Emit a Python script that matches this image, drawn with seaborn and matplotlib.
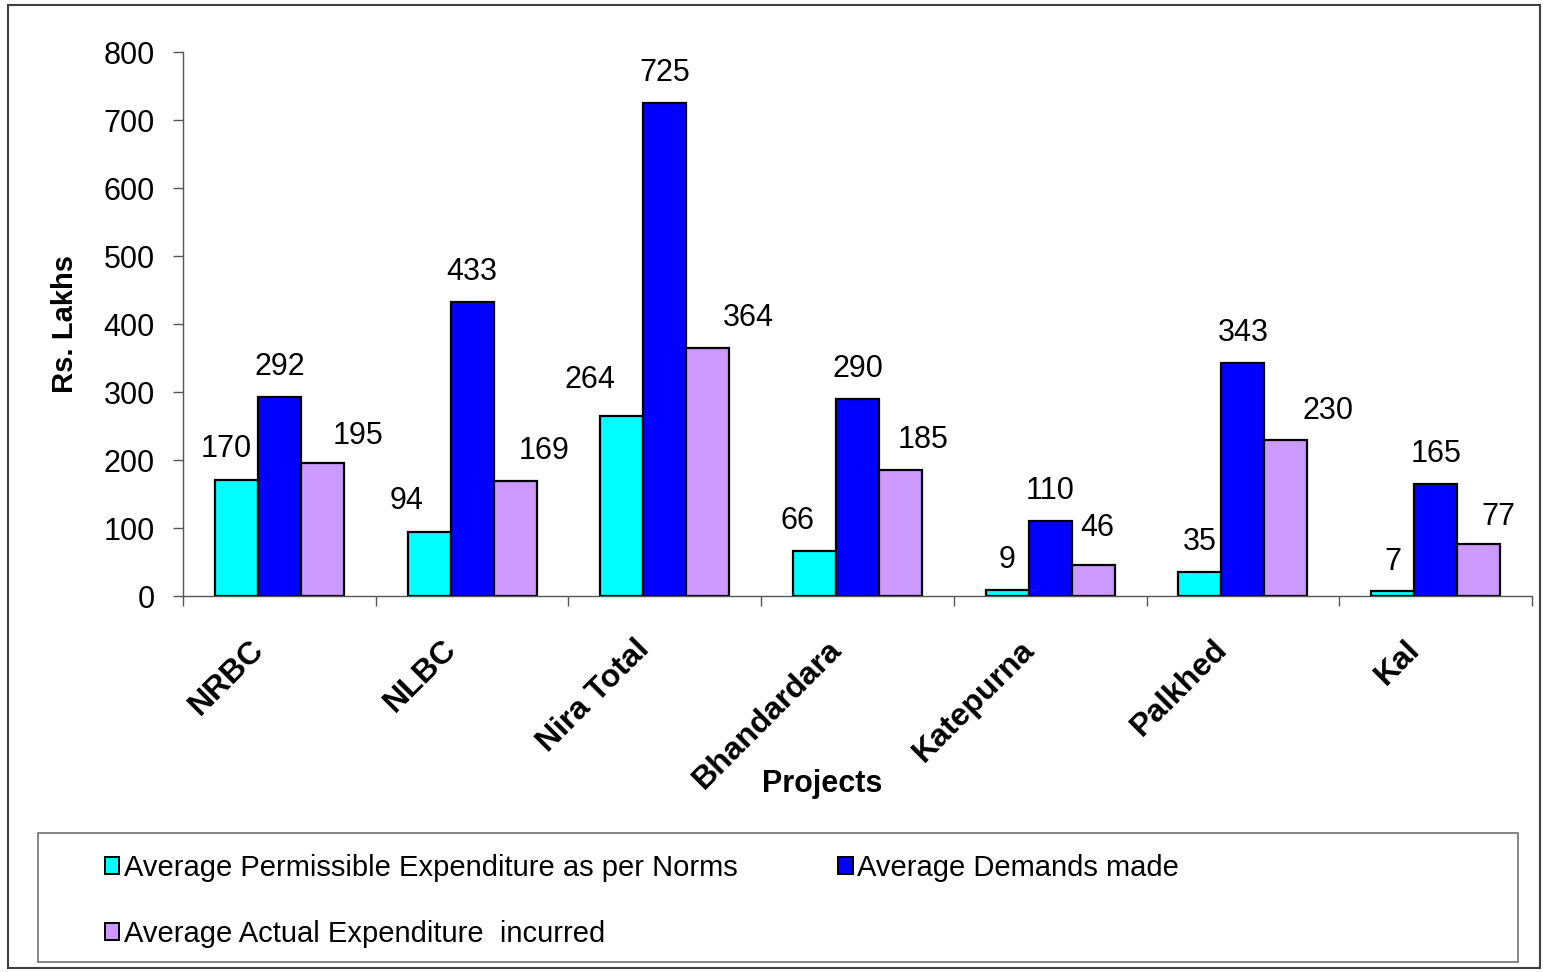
import numpy as np
import pandas as pd
import matplotlib
matplotlib.use("Agg")
import matplotlib.pyplot as plt
import matplotlib.transforms as mtransforms
from matplotlib.patches import Patch, Rectangle
import seaborn as sns

# ---- data -------------------------------------------------------------
projects = ["NRBC", "NLBC", "Nira Total", "Bhandardara", "Katepurna", "Palkhed", "Kal"]
series_names = [
    "Average Permissible Expenditure as per Norms",
    "Average Demands made",
    "Average Actual Expenditure  incurred",
]
permissible = [170, 94, 264, 66, 9, 35, 7]
demands = [292, 433, 725, 290, 110, 343, 165]
actual = [195, 169, 364, 185, 46, 230, 77]
y_ticks = [0, 100, 200, 300, 400, 500, 600, 700, 800]

series_values = [permissible, demands, actual]
colors = ["#00FFFF", "#0000FF", "#CC99FF"]

# value-label nudges (pixels): horizontal shift, height above bar top
label_dx = [[-10, -22, -32, -17, 0, 0, 0],
            [0, 0, 0, 0, 0, 0, 0],
            [36, 29, 41, 23, 4, 42, 20]]
label_dy = [[31, 31, 36, 30, 30, 30, 29],
            [30, 30, 30, 30, 30, 30, 30],
            [27, 30, 30, 30, 37, 29, 27]]

df = pd.DataFrame({
    "Project": np.tile(projects, len(series_names)),
    "Series": np.repeat(series_names, len(projects)),
    "Value": np.concatenate(series_values),
})

# ---- style ------------------------------------------------------------
sns.set_theme(style="white")
plt.rcParams["font.family"] = ["Liberation Sans", "DejaVu Sans"]
plt.rcParams["text.color"] = "black"
plt.rcParams["axes.labelcolor"] = "black"
plt.rcParams["xtick.color"] = "black"
plt.rcParams["ytick.color"] = "black"

DPI = 100
PX = 72.0 / DPI  # points per pixel
W, H = 1543, 972
fig = plt.figure(figsize=(W / DPI, H / DPI), dpi=DPI, facecolor="white")
ax = fig.add_axes([183 / W, 1 - 596 / H, (1532 - 183) / W, (596 - 52) / H])

sns.barplot(
    data=df, x="Project", y="Value", hue="Series",
    order=projects, hue_order=series_names, palette=colors,
    width=0.67, saturation=1, edgecolor="black", linewidth=1.6,
    legend=False, ax=ax,
)

# ---- value labels -----------------------------------------------------
for s, container in enumerate(ax.containers):
    for i, bar in enumerate(container):
        v = series_values[s][i]
        ax.annotate(
            f"{v}",
            xy=(bar.get_x() + bar.get_width() / 2, bar.get_height()),
            xytext=(label_dx[s][i] * PX, label_dy[s][i] * PX),
            textcoords="offset points", ha="center", va="center",
            fontsize=22, color="black",
        )

# ---- axes -------------------------------------------------------------
axis_col = "#555555"
ax.set_ylim(0, 800)
ax.set_xlim(-0.5, len(projects) - 0.5)
ax.set_yticks(y_ticks)
ax.set_yticklabels([str(t) for t in y_ticks], fontsize=22, color="black")

# boundary ticks on the category axis; project names drawn per group
ax.set_xticks(np.arange(-0.5, len(projects), 1.0))
ax.set_xticklabels([])
name_offset = mtransforms.ScaledTranslation(-20 / DPI, -49 / DPI, fig.dpi_scale_trans)
name_trans = ax.get_xaxis_transform() + name_offset
for i, name in enumerate(projects):
    ax.text(i, 0, name, transform=name_trans, rotation=45,
            ha="right", va="center", rotation_mode="anchor",
            fontsize=23, fontweight="bold", color="black", clip_on=False)

ax.tick_params(axis="y", which="major", left=True, direction="out",
               length=10 * PX, width=1, color=axis_col, pad=18 * PX)
ax.tick_params(axis="x", which="major", bottom=True, direction="out",
               length=10 * PX, width=1, color=axis_col)

for side in ("top", "right"):
    ax.spines[side].set_visible(False)
for side in ("left", "bottom"):
    ax.spines[side].set_color(axis_col)
    ax.spines[side].set_linewidth(1)

ax.set_ylabel("Rs. Lakhs", fontsize=21, fontweight="bold", va="center")
ax.yaxis.set_label_coords((65 - 183) / (1532 - 183), 0.5)
ax.set_xlabel("Projects", fontsize=22, fontweight="bold", va="center")
ax.xaxis.set_label_coords((822 - 183) / (1532 - 183), (596 - 784) / (596 - 52))

# ---- legend -----------------------------------------------------------
handles = [Patch(facecolor=c, edgecolor="black", linewidth=1.4) for c in colors]
order = [0, 2, 1]
fig.legend(
    [handles[k] for k in order], [series_names[k] for k in order],
    ncol=2, loc="upper left", bbox_to_anchor=(90 / W, 1 - 839 / H),
    frameon=False, borderpad=0, fontsize=21,
    handlelength=0.5, handleheight=0.5, handletextpad=0.15,
    labelspacing=1.31, columnspacing=3.45,
)
fig.patches.append(Rectangle((38 / W, 1 - 962 / H), (1518 - 38) / W, (962 - 833) / H,
                             transform=fig.transFigure, fill=False,
                             edgecolor="#707070", linewidth=1.2))
fig.patches.append(Rectangle((8 / W, 1 - 968 / H), (1540 - 8) / W, (968 - 5) / H,
                             transform=fig.transFigure, fill=False,
                             edgecolor="#404040", linewidth=1.5))

fig.savefig("out.png", dpi=DPI, facecolor="white")
